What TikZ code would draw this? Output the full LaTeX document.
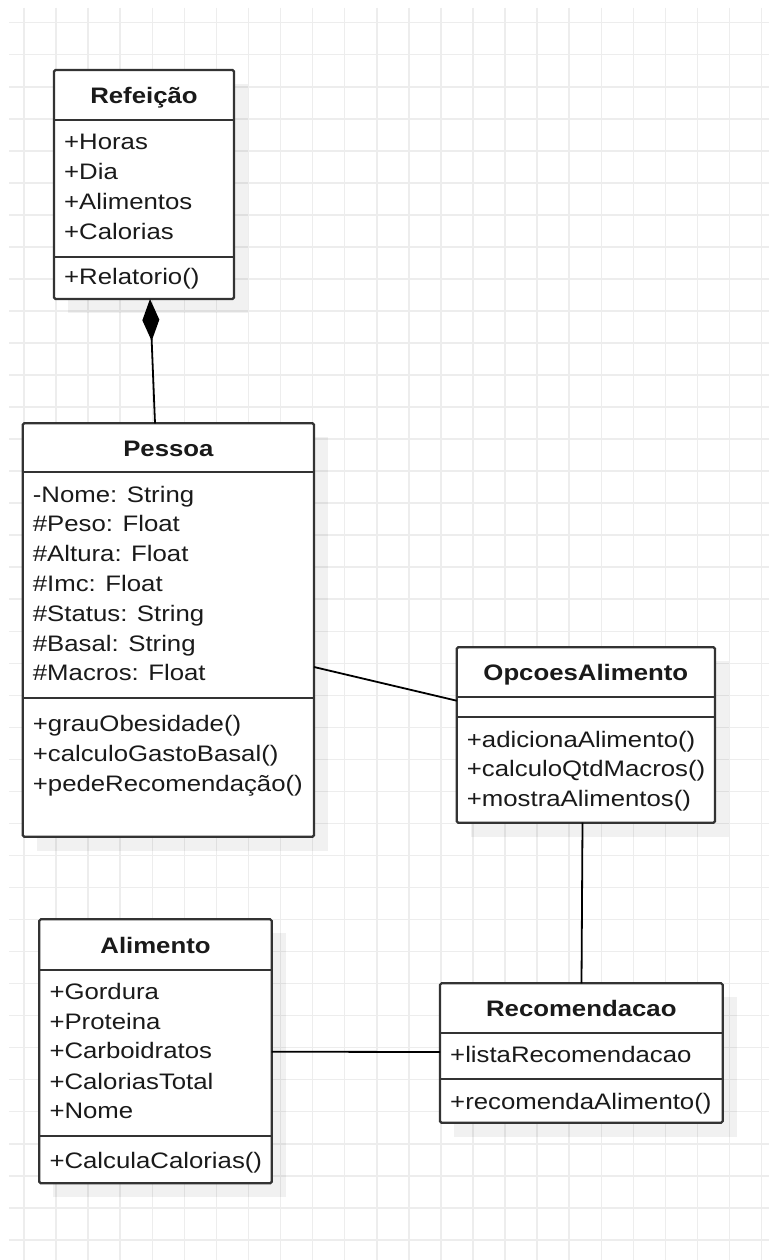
\documentclass[tikz,border=0pt]{standalone}
\usepackage{fontspec}
\setmainfont{Liberation Sans}[FakeStretch=1.15]
\usetikzlibrary{arrows.meta}

\definecolor{gridgray}{HTML}{EDEDED}
\definecolor{boxgray}{HTML}{333333}
\definecolor{txt}{HTML}{1A1A1A}

\newcommand{\umlfont}{\fontsize{22.4}{26}\selectfont}

\tikzset{
  gridline/.style={draw=gridgray, line width=1.5pt},
  umlbox/.style={draw=boxgray, line width=2.2pt, fill=white, rounded corners=1.5pt,
                 inner sep=0pt, outer sep=0pt, anchor=north west},
  boxframe/.style={inner sep=0pt, outer sep=0pt, anchor=north west},
  boxshadow/.style={fill=black, opacity=0.055},
  sepline/.style={draw=boxgray, line width=2.2pt},
  title/.style={font=\umlfont\bfseries, anchor=base, inner sep=0pt, text=txt},
  member/.style={font=\umlfont, anchor=base west, inner sep=0pt, text=txt},
  link/.style={draw=black, line width=1.8pt},
}

% shadow behind a class box
\newcommand{\classshadow}[1]{%
  \fill[boxshadow] ([shift={(14pt,-14pt)}]#1.north west) rectangle ([shift={(14pt,-14pt)}]#1.south east);}

\begin{document}
\begin{tikzpicture}[x=1pt, y=-1pt]
\useasboundingbox (0,0) rectangle (769,1260);
\fill[white] (0,0) rectangle (769,1260);

% background grid
\foreach \k in {0,...,23} {
  \draw[gridline] ({24+32.07*\k},8) -- ({24+32.07*\k},1260);
}
\foreach \k in {0,...,38} {
  \draw[gridline] (9,{22.7+32.03*\k}) -- (769,{22.7+32.03*\k});
}

% ---------- class box frames ----------
\path (54,70)        node[boxframe, minimum width=180pt,   minimum height=229pt]   (ref) {};
\path (22.7,423.3)   node[boxframe, minimum width=291.3pt, minimum height=413.4pt] (pes) {};
\path (456.7,647.3)  node[boxframe, minimum width=258.3pt, minimum height=175.4pt] (opc) {};
\path (440,983.3)    node[boxframe, minimum width=282.7pt, minimum height=139.4pt] (rec) {};
\path (39.3,919.3)   node[boxframe, minimum width=232.4pt, minimum height=264pt]   (ali) {};

\classshadow{ref}
\classshadow{pes}
\classshadow{opc}
\classshadow{rec}
\classshadow{ali}

\node[umlbox, minimum width=180pt,   minimum height=229pt]   at (ref.north west) {};
\node[umlbox, minimum width=291.3pt, minimum height=413.4pt] at (pes.north west) {};
\node[umlbox, minimum width=258.3pt, minimum height=175.4pt] at (opc.north west) {};
\node[umlbox, minimum width=282.7pt, minimum height=139.4pt] at (rec.north west) {};
\node[umlbox, minimum width=232.4pt, minimum height=264pt]   at (ali.north west) {};

% compartment separators
\draw[sepline] ([yshift=-50pt]ref.north west) -- ([yshift=-50pt]ref.north east);
\draw[sepline] ([yshift=-187pt]ref.north west) -- ([yshift=-187pt]ref.north east);
\draw[sepline] ([yshift=-48.4pt]pes.north west) -- ([yshift=-48.4pt]pes.north east);
\draw[sepline] ([yshift=-275pt]pes.north west) -- ([yshift=-275pt]pes.north east);
\draw[sepline] ([yshift=-49.4pt]opc.north west) -- ([yshift=-49.4pt]opc.north east);
\draw[sepline] ([yshift=-70pt]opc.north west) -- ([yshift=-70pt]opc.north east);
\draw[sepline] ([yshift=-50pt]rec.north west) -- ([yshift=-50pt]rec.north east);
\draw[sepline] ([yshift=-96pt]rec.north west) -- ([yshift=-96pt]rec.north east);
\draw[sepline] ([yshift=-50.7pt]ali.north west) -- ([yshift=-50.7pt]ali.north east);
\draw[sepline] ([yshift=-216.7pt]ali.north west) -- ([yshift=-216.7pt]ali.north east);

% ---------- Refeição ----------
\node[title]  (refT)  at (144,104)   {Refeição};
\node[member] (ref1)  at (64,150)    {+Horas};
\node[member] (ref2)  at (64,179.8)  {+Dia};
\node[member] (ref3)  at (64,209.6)  {+Alimentos};
\node[member] (ref4)  at (64,239.4)  {+Calorias};
\node[member] (ref5)  at (64,284.5)  {+Relatorio()};

% ---------- Pessoa ----------
\node[title]  (pesT)  at (168.4,456) {Pessoa};
\node[member] (pes1)  at (32.7,502)    {-Nome: String};
\node[member] (pes2)  at (32.7,531.8)  {\#Peso: Float};
\node[member] (pes3)  at (32.7,561.6)  {\#Altura: Float};
\node[member] (pes4)  at (32.7,591.4)  {\#Imc: Float};
\node[member] (pes5)  at (32.7,621.2)  {\#Status: String};
\node[member] (pes6)  at (32.7,651)    {\#Basal: String};
\node[member] (pes7)  at (32.7,680.8)  {\#Macros: Float};
\node[member] (pes8)  at (32.7,731.7)  {+grauObesidade()};
\node[member] (pes9)  at (32.7,761.5)  {+calculoGastoBasal()};
\node[member] (pes10) at (32.7,791.3)  {+pedeRecomendação()};

% ---------- OpcoesAlimento ----------
\node[title]  (opcT)  at (585.8,680.7) {OpcoesAlimento};
\node[member] (opc1)  at (466.7,747.3)  {+adicionaAlimento()};
\node[member] (opc2)  at (466.7,776.7)  {+calculoQtdMacros()};
\node[member] (opc3)  at (466.7,806)    {+mostraAlimentos()};

% ---------- Recomendacao ----------
\node[title]  (recT)  at (581.3,1016.7) {Recomendacao};
\node[member] (rec1)  at (450,1062.7)   {+listaRecomendacao};
\node[member] (rec2)  at (450,1109)     {+recomendaAlimento()};

% ---------- Alimento ----------
\node[title]  (aliT)  at (155.5,953.3)  {Alimento};
\node[member] (ali1)  at (49.3,999.3)   {+Gordura};
\node[member] (ali2)  at (49.3,1029.3)  {+Proteina};
\node[member] (ali3)  at (49.3,1058.7)  {+Carboidratos};
\node[member] (ali4)  at (49.3,1089)    {+CaloriasTotal};
\node[member] (ali5)  at (49.3,1118.7)  {+Nome};
\node[member] (ali6)  at (49.3,1168.3)  {+CalculaCalorias()};

% ---------- relationships ----------
\draw[link, -{Diamond[length=42pt, width=17pt]}]
  ([xshift=132.3pt]pes.north west) -- ([xshift=96pt]ref.south west);
\draw[link] ([yshift=-243.7pt]pes.north east) -- ([yshift=-53.4pt]opc.north west);
\draw[link] ([xshift=125.8pt]opc.south west) -- ([xshift=141.5pt]rec.north west);
\draw[link] ([yshift=-132.4pt]ali.north east) -- ([yshift=-68.7pt]rec.north west);

\end{tikzpicture}
\end{document}
